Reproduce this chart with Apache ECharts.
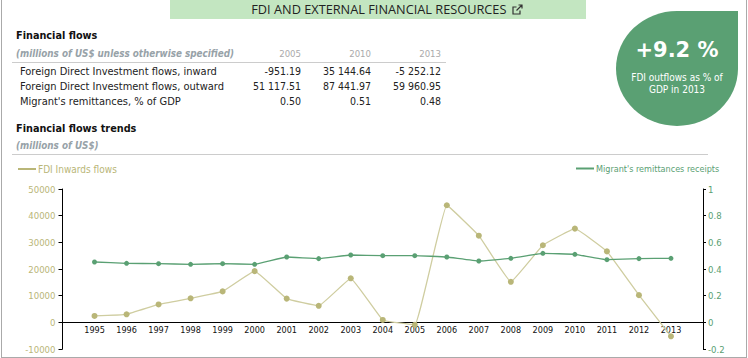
<!DOCTYPE html>
<html><head><meta charset="utf-8">
<script src="https://cdn.jsdelivr.net/npm/echarts@6/dist/echarts.min.js"></script>
<style>
html,body{margin:0;padding:0;background:#fff;}
body{width:748px;height:358px;position:relative;overflow:hidden;font-family:"DejaVu Sans Condensed","DejaVu Sans",sans-serif;}
#frame{position:absolute;left:1px;top:-3px;width:744px;height:359px;border:1px solid #aaa;}
#chart{position:absolute;left:0;top:0;width:748px;height:358px;}
.t{position:absolute;white-space:nowrap;}
#band{position:absolute;left:170px;top:0;width:416px;height:19px;background:#c3e6c1;color:#222;font:12.75px/19px "Open Sans",sans-serif;text-align:center;text-indent:18px;}
#band svg{vertical-align:-1px;margin-left:2px;}
.h{font-weight:bold;font-size:10.8px;color:#111;left:16px;}
.sub{font-style:italic;font-weight:bold;font-size:9.8px;color:#97a2a8;left:16px;}
.rule{position:absolute;left:12px;height:1px;background:#ccc;}
.row{font-size:11px;color:#222;left:20px;}
.num{font-size:10.5px;color:#222;text-align:right;width:70px;}
.yr{font-size:9.5px;color:#aaa;text-align:right;width:70px;}
#blob{position:absolute;left:616px;top:11px;width:122px;height:115px;background:#5aa073;border-radius:50% 0 50% 50%;color:#fff;text-align:center;}
#blob .big{position:absolute;top:27px;left:0;width:100%;font:bold 21px "DejaVu Sans",sans-serif;}
#blob .small{position:absolute;top:61px;left:0;width:100%;font-size:10px;line-height:12px;}
</style></head><body>
<div id="chart"></div>
<div id="frame"></div>
<div id="band">FDI AND EXTERNAL FINANCIAL RESOURCES <svg width="11" height="11" viewBox="0 0 11 11" fill="none" stroke="#333" stroke-width="1.2"><path d="M8 6.5V10H1V3h3.5M4.5 6.5L10 1M6.5 1H10v3.5"/></svg></div>
<div class="t h" style="top:29px">Financial flows</div>
<div class="t sub" style="top:48px">(millions of US$ unless otherwise specified)</div>
<div class="rule" style="top:62px;width:434px"></div>
<div id="table"></div>
<div class="t h" style="top:122px">Financial flows trends</div>
<div class="t sub" style="top:140px">(millions of US$)</div>
<div class="rule" style="top:154px;width:696px"></div>
<div id="blob"><div class="big">+9.2 %</div><div class="small">FDI outflows as % of<br>GDP in 2013</div></div>
<script>
var tableYears = ['2005', '2010', '2013'];
var tableRows = ['Foreign Direct Investment flows, inward', 'Foreign Direct Investment flows, outward', "Migrant's remittances, % of GDP"];
var tableInward = ['-951.19', '35 144.64', '-5 252.12'];
var tableOutward = ['51 117.51', '87 441.97', '59 960.95'];
var tableRemit = ['0.50', '0.51', '0.48'];

var years = [1995,1996,1997,1998,1999,2000,2001,2002,2003,2004,2005,2006,2007,2008,2009,2010,2011,2012,2013];
var fdiInflows = [2400,3000,6700,9000,11600,19200,8900,6200,16500,900,-951.19,43900,32500,15200,28900,35144.64,26600,10200,-5252.12];
var remittances = [0.4525,0.4425,0.44,0.435,0.44,0.435,0.49,0.478,0.505,0.5,0.5,0.49,0.46,0.48,0.5175,0.51,0.47,0.478,0.48];

var colIn = '#b9b678', colRem = '#5aa073';
var colsRight = [301, 371, 441];
var html = '';
tableYears.forEach(function(y,i){ html += '<div class="t yr" style="top:48px;left:'+(colsRight[i]-70)+'px">'+y+'</div>'; });
[tableInward, tableOutward, tableRemit].forEach(function(r,j){
  var top = 65 + j*15;
  html += '<div class="t row" style="top:'+top+'px">'+tableRows[j]+'</div>';
  r.forEach(function(v,i){ html += '<div class="t num" style="top:'+top+'px;left:'+(colsRight[i]-70)+'px">'+v+'</div>'; });
});
document.getElementById('table').innerHTML = html;

function pairs(a){ return a.map(function(v,i){ return [years[i], v]; }); }
function plain(v){ return String(v); }
var font = '"DejaVu Sans Condensed","DejaVu Sans",sans-serif';
var chart = echarts.init(document.getElementById('chart'), null, {renderer:'svg'});
chart.setOption({
  animation:false,
  grid:{left:62.5, right:45, top:189, bottom:9, containLabel:false, outerBoundsMode:'none'},
  legend:[
    {data:['FDI Inwards flows'], left:18, top:164, icon:'rect', itemWidth:18, itemHeight:2, itemGap:4, padding:0, textStyle:{color:colIn,fontSize:10,fontFamily:font,padding:[0,0,0,-3]}},
    {data:["Migrant's remittances receipts"], left:576, top:164, icon:'rect', itemWidth:18, itemHeight:2, itemGap:4, padding:0, textStyle:{color:colRem,fontSize:9,fontFamily:font,padding:[0,0,0,-3]}}
  ],
  xAxis:{type:'value', min:1994, max:2014, interval:1, splitLine:{show:false},
    axisLine:{onZero:true, lineStyle:{color:'#000',width:1}}, axisTick:{show:false},
    axisLabel:{color:'#111',fontSize:9,fontFamily:font,margin:-24,showMinLabel:false,showMaxLabel:false,formatter:plain,hideOverlap:false}},
  yAxis:[
    {type:'value', min:-10000, max:50000, interval:10000, position:'left', splitLine:{show:false},
     axisLine:{show:true,onZero:false,lineStyle:{color:'#000'}}, axisTick:{show:true,length:4,lineStyle:{color:'#000'}},
     axisLabel:{color:colIn,fontSize:9.5,fontFamily:font,margin:7,padding:[0,0,3,0],formatter:plain}},
    {type:'value', min:-0.2, max:1, interval:0.2, position:'right', splitLine:{show:false},
     axisLine:{show:true,onZero:false,lineStyle:{color:'#000'}}, axisTick:{show:true,length:3,lineStyle:{color:'#000'}},
     axisLabel:{color:colRem,fontSize:9.5,fontFamily:font,margin:5,padding:[0,0,3,0],formatter:plain}}
  ],
  series:[
    {name:'FDI Inwards flows',type:'line',yAxisIndex:0,data:pairs(fdiInflows),smooth:0.08,symbol:'circle',symbolSize:6,
     lineStyle:{color:'#cfcda0',width:1.3},itemStyle:{color:colIn}},
    {name:"Migrant's remittances receipts",type:'line',yAxisIndex:1,data:pairs(remittances),smooth:0.08,symbol:'circle',symbolSize:5,
     lineStyle:{color:colRem,width:1.3},itemStyle:{color:colRem}}
  ]
});
</script>
</body></html>
